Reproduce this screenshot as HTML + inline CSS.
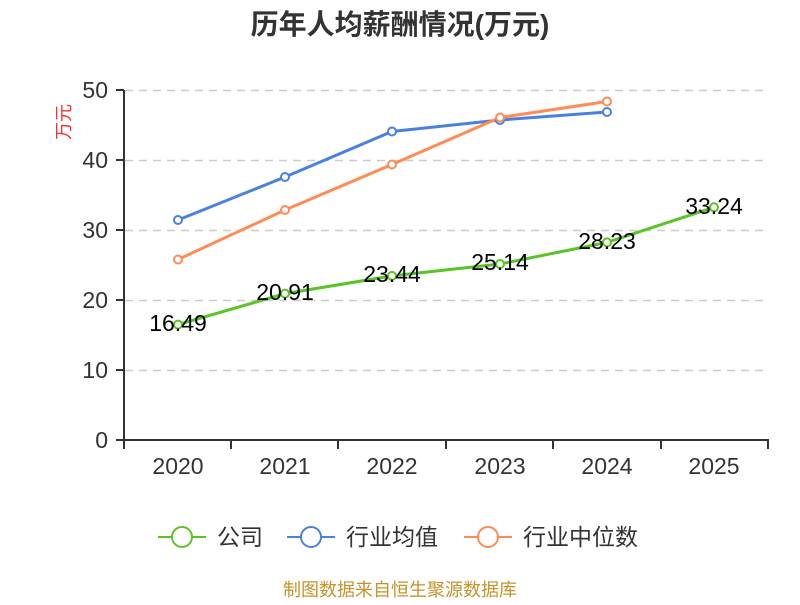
<!DOCTYPE html>
<html><head><meta charset="utf-8"><style>body{margin:0;background:#fff}</style></head><body>
<svg width="800" height="600" xmlns="http://www.w3.org/2000/svg" font-family="Liberation Sans, Noto Sans CJK SC, sans-serif">
<rect width="800" height="600" fill="#fff"/>
<text x="400" y="34" text-anchor="middle" font-size="28" font-weight="bold" fill="#333">历年人均薪酬情况(万元)</text>
<text transform="translate(70,122) rotate(-90)" text-anchor="middle" font-size="18" fill="#e33">万元</text>
<g stroke="#ccc" stroke-dasharray="8,6" stroke-width="1.5">
<line x1="125" y1="90.5" x2="768" y2="90.5"/><line x1="125" y1="160.5" x2="768" y2="160.5"/><line x1="125" y1="230.5" x2="768" y2="230.5"/><line x1="125" y1="300.5" x2="768" y2="300.5"/><line x1="125" y1="370.5" x2="768" y2="370.5"/>
</g>
<g stroke="#333" stroke-width="2">
<line x1="124" y1="90" x2="124" y2="441"/><line x1="123" y1="440" x2="769" y2="440"/>
<line x1="116" y1="90" x2="124" y2="90"/><line x1="116" y1="160" x2="124" y2="160"/><line x1="116" y1="230" x2="124" y2="230"/><line x1="116" y1="300" x2="124" y2="300"/><line x1="116" y1="370" x2="124" y2="370"/><line x1="116" y1="440" x2="124" y2="440"/>
<line x1="124" y1="440" x2="124" y2="449"/><line x1="231" y1="440" x2="231" y2="449"/><line x1="338" y1="440" x2="338" y2="449"/><line x1="446" y1="440" x2="446" y2="449"/><line x1="553" y1="440" x2="553" y2="449"/><line x1="661" y1="440" x2="661" y2="449"/><line x1="768" y1="440" x2="768" y2="449"/>
</g>
<g font-size="23" fill="#333" text-anchor="end">
<text x="108" y="98">50</text><text x="108" y="168">40</text><text x="108" y="238">30</text><text x="108" y="308">20</text><text x="108" y="378">10</text><text x="108" y="448">0</text>
</g>
<g font-size="23" fill="#333" text-anchor="middle">
<text x="178" y="474">2020</text><text x="285" y="474">2021</text><text x="392" y="474">2022</text><text x="500" y="474">2023</text><text x="607" y="474">2024</text><text x="714" y="474">2025</text>
</g>
<g fill="#fff" stroke-width="2">
<polyline fill="none" stroke="#4a80e0" stroke-width="3" points="178,220 285,177 392,131.5 500,120 607,112"/>
<polyline fill="none" stroke="#ff8c55" stroke-width="3" points="178,259.5 285,210 392,164.5 500,117.5 607,101.5"/>
<polyline fill="none" stroke="#5ac424" stroke-width="3" points="178,324.6 285,293.6 392,275.9 500,264 607,242.4 714,207.3"/>
<g stroke="#4a80e0"><circle cx="178" cy="220" r="4"/><circle cx="285" cy="177" r="4"/><circle cx="392" cy="131.5" r="4"/><circle cx="500" cy="120" r="4"/><circle cx="607" cy="112" r="4"/></g>
<g stroke="#ff8c55"><circle cx="178" cy="259.5" r="4"/><circle cx="285" cy="210" r="4"/><circle cx="392" cy="164.5" r="4"/><circle cx="500" cy="117.5" r="4"/><circle cx="607" cy="101.5" r="4"/></g>
<g stroke="#5ac424"><circle cx="178" cy="324.6" r="4"/><circle cx="285" cy="293.6" r="4"/><circle cx="392" cy="275.9" r="4"/><circle cx="500" cy="264" r="4"/><circle cx="607" cy="242.4" r="4"/><circle cx="714" cy="207.3" r="4"/></g>
</g>
<g font-size="23" fill="#000" text-anchor="middle">
<text x="178" y="331">16.49</text><text x="285" y="300">20.91</text><text x="392" y="282">23.44</text><text x="500" y="270">25.14</text><text x="607" y="249">28.23</text><text x="714" y="214">33.24</text>
</g>
<g stroke-width="2" fill="#fff">
<line x1="158" y1="537" x2="206" y2="537" stroke="#5ac424"/><circle cx="182" cy="537" r="10" stroke="#5ac424"/>
<line x1="287" y1="537" x2="335" y2="537" stroke="#4a80e0"/><circle cx="311" cy="537" r="10" stroke="#4a80e0"/>
<line x1="464" y1="537" x2="512" y2="537" stroke="#ff8c55"/><circle cx="488" cy="537" r="10" stroke="#ff8c55"/>
</g>
<g font-size="23" fill="#333">
<text x="217" y="545">公司</text><text x="346" y="545">行业均值</text><text x="523" y="545">行业中位数</text>
</g>
<text x="400" y="596" text-anchor="middle" font-size="18" fill="#c8922a">制图数据来自恒生聚源数据库</text>
</svg>
</body></html>
